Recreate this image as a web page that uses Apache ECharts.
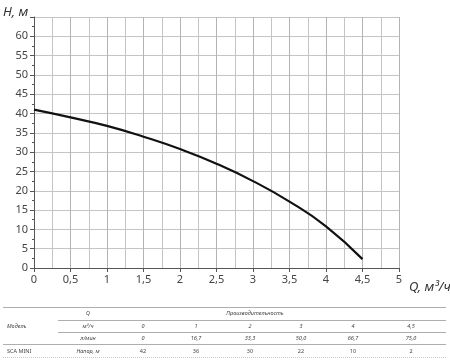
<!DOCTYPE html>
<html><head><meta charset="utf-8">
<script src="https://cdn.jsdelivr.net/npm/echarts@6/dist/echarts.min.js"></script>
<style>html,body{margin:0;padding:0;background:#fff}#c{width:450px;height:362px}</style>
</head><body><div id="c"></div>
<script>
// Curve
var curveQ = [0, 0.5, 1, 1.5, 2, 2.5, 3, 3.5, 4, 4.5];
var curveH = [41, 39, 36.8, 34, 30.8, 27, 22.5, 17.2, 10.8, 2.3];
// Table
var tableQm3 = ['0', '1', '2', '3', '4', '4,5'];
var tableLmin = ['0', '16,7', '33,3', '50,0', '66,7', '75,0'];
var tableHead = ['42', '36', '30', '22', '10', '2'];
var yMax = 65, xMax = 5;

var chart = echarts.init(document.getElementById('c'), null, {renderer: 'canvas'});
var font = 'Noto Sans';
var colX = [143, 196, 250, 301, 353, 411];
var g = [];
function txt(x, y, s, opt) {
  opt = opt || {};
  g.push({type: 'text', x: x, y: y, style: {text: s, fontSize: opt.fs || 5.5, fontStyle: opt.it === false ? 'normal' : 'italic', fontFamily: font, fill: opt.c || '#444', align: opt.align || 'center', verticalAlign: 'middle'}});
}
function hline(x1, x2, y, dash) {
  g.push({type: 'line', shape: {x1: x1, y1: y, x2: x2, y2: y}, style: {stroke: dash ? '#bbb' : '#999', lineWidth: 0.8, lineDash: dash ? [1, 1] : null}});
}
hline(3, 446, 307.5);
hline(58, 446, 320.5);
hline(58, 446, 332.5);
hline(3, 446, 344.5);
hline(3, 446, 357.5, true);
txt(88, 313, 'Q');
txt(255, 313, 'Производительность');
txt(7, 326, 'Модель', {align: 'left'});
txt(88, 326, 'м³/ч');
txt(88, 338, 'л/мин');
txt(7, 351, 'SCA MINI', {align: 'left', it: false});
txt(88, 351, 'Напор, м');
for (var i = 0; i < tableQm3.length; i++) {
  txt(colX[i], 326, tableQm3[i]);
  txt(colX[i], 338, tableLmin[i]);
  txt(colX[i], 351, tableHead[i], {it: false});
}
g.push({type: 'text', x: 3, y: 12, style: {text: 'H, м', fontSize: 13, fontStyle: 'italic', fontFamily: font, fill: '#333', verticalAlign: 'middle'}});
g.push({type: 'text', x: 409, y: 287, style: {text: 'Q, м³/ч', fontSize: 13, fontStyle: 'italic', fontFamily: font, fill: '#333', verticalAlign: 'middle'}});

var data = curveQ.map(function (q, i) { return [q, curveH[i]]; });
chart.setOption({
  animation: false,
  grid: {left: 34, right: 51, top: 17, bottom: 94},
  xAxis: {
    type: 'value', min: 0, max: xMax, interval: 0.5,
    axisLine: {show: true, lineStyle: {color: '#555', width: 1}},
    axisTick: {show: true, length: 4, lineStyle: {color: '#555'}},
    minorTick: {show: false, splitNumber: 2},
    minorSplitLine: {show: true, lineStyle: {color: '#c4c4c4', width: 1}},
    splitLine: {show: true, lineStyle: {color: '#b4b4b4', width: 1}},
    axisLabel: {fontSize: 11, fontFamily: font, color: '#444', margin: 6,
      formatter: function (v) { return String(v).replace('.', ','); }}
  },
  yAxis: {
    type: 'value', min: 0, max: yMax, interval: 5,
    axisLine: {show: true, lineStyle: {color: '#555', width: 1}},
    axisTick: {show: true, length: 4, lineStyle: {color: '#555'}},
    minorTick: {show: true, splitNumber: 2, length: 2, lineStyle: {color: '#555'}},
    splitLine: {show: true, lineStyle: {color: '#c4c4c4', width: 1}},
    axisLabel: {fontSize: 11, fontFamily: font, color: '#444', margin: 6,
      formatter: function (v) { return v >= yMax ? '' : String(v); }}
  },
  series: [{
    type: 'line', data: data, smooth: true, symbol: 'none',
    lineStyle: {color: '#111', width: 2.2}
  }],
  graphic: g
});
</script></body></html>
